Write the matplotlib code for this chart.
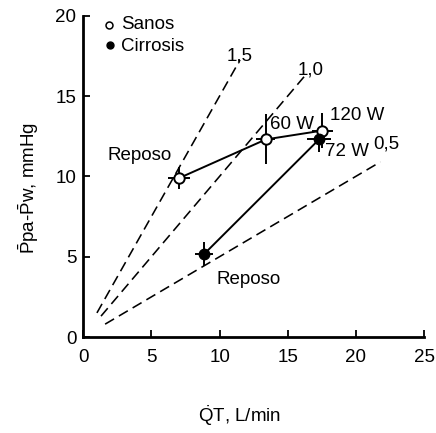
import matplotlib
matplotlib.use("Agg")
import matplotlib.pyplot as plt

plt.rcParams['font.family'] = ['Liberation Sans', 'DejaVu Sans']
plt.rcParams['mathtext.fontset'] = 'custom'
plt.rcParams['mathtext.rm'] = 'Liberation Sans'
plt.rcParams['mathtext.it'] = 'Liberation Sans:italic'

# Sanos (healthy): rest, 60 W, 120 W
sanos_x = [7.05, 13.4, 17.55]
sanos_y = [9.9, 12.3, 12.85]
sanos_xerr = [0.8, 0.7, 0.8]
sanos_yerr = [0.7, 1.55, 1.1]

# Cirrosis: rest, 72 W
cirr_x = [8.85, 17.3]
cirr_y = [5.15, 12.3]
cirr_xerr = [0.65, 0.85]
cirr_yerr = [0.75, 0.8]

# Resistance isolines (slope) and x ranges
iso_slopes = [1.5, 1.0, 0.5]
iso_labels = ["1,5", "1,0", "0,5"]
iso_xstart = [1.0, 1.3, 1.6]
iso_xend = [11.5, 16.3, 21.8]

x_ticks = [0, 5, 10, 15, 20, 25]
y_ticks = [0, 5, 10, 15, 20]

fig = plt.figure(figsize=(4.36, 4.33), dpi=100)
ax = fig.add_axes([83.3/436, (433-337)/433, (424-83.3)/436, (337-15.7)/433])

for s, x0, x1 in zip(iso_slopes, iso_xstart, iso_xend):
    ax.plot([x0, x1], [s*x0, s*x1], color='black', lw=1.15, dashes=[6.5, 3.5], zorder=1)

ax.errorbar(sanos_x, sanos_y, xerr=sanos_xerr, yerr=sanos_yerr, fmt='-', color='black',
            lw=1.4, elinewidth=1.4, capsize=0, zorder=2)
ax.plot(sanos_x, sanos_y, 'o', mfc='white', mec='black', mew=1.4, ms=7.5, zorder=3)
ax.errorbar(cirr_x, cirr_y, xerr=cirr_xerr, yerr=cirr_yerr, fmt='-', color='black',
            lw=1.4, elinewidth=1.4, capsize=0, zorder=2)
ax.plot(cirr_x, cirr_y, 'o', mfc='black', mec='black', ms=7.5, zorder=3)

fs = 13.5
# isoline labels
iso_pos = [(10.5, 17.5), (15.7, 16.6), (21.25, 12.0)]
for lab, (tx, ty) in zip(iso_labels, iso_pos):
    ax.text(tx, ty, lab, fontsize=fs, ha='left', va='center')

ax.text(1.8, 11.27, "Reposo", fontsize=fs, ha='left', va='center')
ax.text(9.79, 3.6, "Reposo", fontsize=fs, ha='left', va='center')
ax.text(13.7, 13.2, "60 W", fontsize=fs, ha='left', va='center')
ax.text(18.1, 13.76, "120 W", fontsize=fs, ha='left', va='center')
ax.text(17.73, 11.52, "72 W", fontsize=fs, ha='left', va='center')

# legend
ax.plot([1.9], [19.4], 'o', mfc='white', mec='black', mew=1.1, ms=5, clip_on=False)
ax.plot([1.95], [18.2], 'o', mfc='black', mec='black', ms=5, clip_on=False)
ax.text(2.75, 19.43, "Sanos", fontsize=fs, ha='left', va='center')
ax.text(2.75, 18.06, "Cirrosis", fontsize=fs, ha='left', va='center')

ax.set_xlim(0, 25)
ax.set_ylim(0, 20)
ax.set_xticks(x_ticks)
ax.set_yticks(y_ticks)
ax.tick_params(direction='in', length=5, width=1.3, labelsize=fs)
ax.tick_params(axis='x', pad=9)
ax.tick_params(axis='y', pad=5)
for sp in ['top', 'right']:
    ax.spines[sp].set_visible(False)
for sp in ['left', 'bottom']:
    ax.spines[sp].set_linewidth(2.0)

ax.set_xlabel(r"$\dot{\rm Q}$T, L/min", fontsize=fs)
ax.xaxis.label.set_va('center')
ax.xaxis.set_label_coords(0.46, -0.245)
ax.set_ylabel(r"$\bar{\rm P}$pa-$\bar{\rm P}$w, mmHg", fontsize=fs)
ax.yaxis.label.set_va('center')
ax.yaxis.set_label_coords(-0.16, 0.464)

fig.savefig("out.png", dpi=100)
